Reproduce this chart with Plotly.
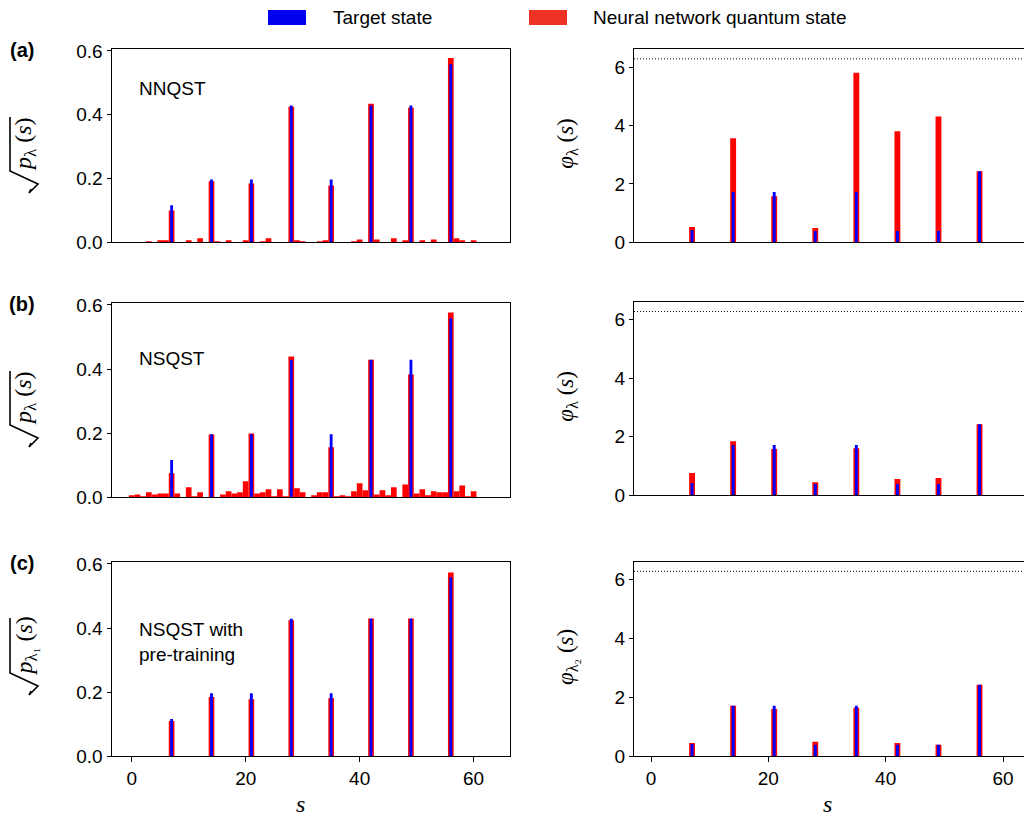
import numpy as np
import plotly.graph_objects as go

# ---------------- data ----------------
s_all = list(range(64))
s_peaks = [7, 14, 21, 28, 35, 42, 49, 56]

target_amp = [0.116, 0.197, 0.197, 0.429, 0.197, 0.429, 0.429, 0.558]
target_phase = [0.42, 1.72, 1.72, 0.39, 1.72, 0.39, 0.39, 2.43]

# (a) NNQST amplitudes, s = 0..63
nnqst_amp = [0, 0, 0, 0.003, 0, 0.006, 0.006, 0.100, 0, 0,
             0.006, 0, 0.0125, 0, 0.191, 0.003, 0, 0.006, 0, 0,
             0.006, 0.184, 0, 0.003, 0.0125, 0, 0, 0, 0.425, 0.006,
             0.003, 0, 0, 0.003, 0.006, 0.178, 0, 0, 0, 0.003,
             0.009, 0, 0.434, 0.009, 0, 0, 0.0125, 0, 0.006, 0.422,
             0, 0.006, 0, 0.009, 0, 0, 0.578, 0.0125, 0.006, 0,
             0.006, 0, 0, 0]
# (b) NSQST amplitudes, s = 0..63
nsqst_amp = [0.006, 0.009, 0.003, 0.016, 0.009, 0.012, 0.012, 0.075, 0.012, 0,
             0.031, 0.003, 0.016, 0, 0.196, 0, 0.009, 0.019, 0.012, 0.016,
             0.050, 0.199, 0.012, 0.016, 0.025, 0.003, 0.025, 0.003, 0.439, 0.028,
             0.016, 0, 0.006, 0.016, 0.016, 0.156, 0.003, 0.006, 0.003, 0.019,
             0.044, 0.022, 0.429, 0.009, 0.022, 0.006, 0.031, 0, 0.040, 0.383,
             0.012, 0.025, 0.006, 0.019, 0.016, 0.016, 0.576, 0.019, 0.037, 0.003,
             0.019, 0, 0, 0]
# (c) NSQST with pre-training, at the peaks
pre_amp = [0.110, 0.185, 0.178, 0.424, 0.181, 0.430, 0.430, 0.573]

nnqst_phase = [0.52, 3.56, 1.58, 0.49, 5.81, 3.80, 4.31, 2.43]
nsqst_phase = [0.76, 1.85, 1.58, 0.45, 1.61, 0.56, 0.59, 2.43]
pre_phase = [0.45, 1.72, 1.61, 0.49, 1.65, 0.45, 0.39, 2.43]

method_names = ["NNQST", "NSQST", "NSQST with<br>pre-training"]
panel_tags = ["(a)", "(b)", "(c)"]
amp_titles = [
    "<i>p</i><sub>λ</sub> (<i>s</i>)",
    "<i>p</i><sub>λ</sub> (<i>s</i>)",
    "<i>p</i><sub>λ₁</sub> (<i>s</i>)",
]
phase_titles = [
    "<i>φ</i><sub>λ</sub> (<i>s</i>)",
    "<i>φ</i><sub>λ</sub> (<i>s</i>)",
    "<i>φ</i><sub>λ₂</sub> (<i>s</i>)",
]
amp_ticks = [0.0, 0.2, 0.4, 0.6]
phase_ticks = [0, 2, 4, 6]
x_ticks = [0, 20, 40, 60]

RED = "#ff0000"
BLUE = "#0000ff"
SANS = "Arial, Liberation Sans, Helvetica, sans-serif"
SERIF = "Liberation Serif, Times New Roman, DejaVu Serif, serif"

W, H = 1024, 820
def px_x(p):
    return p / W
def px_y(p):
    return 1 - p / H

# panel pixel geometry (top, bottom)
left_rows = [(49.3, 242.3), (303.3, 497.3), (562.3, 756.3)]
right_rows = [(49.3, 242.3), (302.0, 495.3), (561.7, 756.3)]
left_x = (111.5, 509.5)
right_x = (634.0, 1024.0)
# radical sign geometry per row: (bar top y, bar bottom y, vertex y, tick end y)
radicals = [(117, 171, 184, 193), (371, 425, 438, 447), (618, 673, 686, 695)]

fig = go.Figure()

red_amp_x = [s_all, s_all, s_peaks]
red_amp_y = [nnqst_amp, nsqst_amp, pre_amp]
red_phase_y = [nnqst_phase, nsqst_phase, pre_phase]

for r in range(3):
    ax_l = 2 * r + 1
    ax_r = 2 * r + 2
    xl = "x" if ax_l == 1 else f"x{ax_l}"
    yl = "y" if ax_l == 1 else f"y{ax_l}"
    xr = f"x{ax_r}"
    yr = f"y{ax_r}"
    fig.add_trace(go.Bar(x=red_amp_x[r], y=red_amp_y[r], width=1.0,
                         marker=dict(color=RED, line=dict(width=0)),
                         xaxis=xl, yaxis=yl, showlegend=False,
                         name="Neural network quantum state"))
    fig.add_trace(go.Bar(x=s_peaks, y=target_amp, width=0.5,
                         marker=dict(color=BLUE, line=dict(width=0)),
                         xaxis=xl, yaxis=yl, showlegend=False,
                         name="Target state"))
    fig.add_trace(go.Bar(x=s_peaks, y=red_phase_y[r], width=1.0,
                         marker=dict(color=RED, line=dict(width=0)),
                         xaxis=xr, yaxis=yr, showlegend=False,
                         name="Neural network quantum state"))
    fig.add_trace(go.Bar(x=s_peaks, y=target_phase, width=0.5,
                         marker=dict(color=BLUE, line=dict(width=0)),
                         xaxis=xr, yaxis=yr, showlegend=False,
                         name="Target state"))

common = dict(showline=True, linecolor="black", linewidth=1, showgrid=False,
              zeroline=False, tickcolor="black", tickwidth=1,
              tickfont=dict(family=SANS, size=19, color="black"))

layout = dict(
    width=W, height=H, barmode="overlay",
    margin=dict(l=0, r=0, t=0, b=0, autoexpand=False),
    plot_bgcolor="white", paper_bgcolor="white",
    showlegend=False, font=dict(family=SANS, color="black"),
)

annotations = []
shapes = []
for r in range(3):
    ax_l = 2 * r + 1
    ax_r = 2 * r + 2
    kl = "" if ax_l == 1 else str(ax_l)
    kr = str(ax_r)
    bottom = (r == 2)
    lt, lb = left_rows[r]
    rt, rb = right_rows[r]
    layout["xaxis" + kl] = dict(common, domain=[px_x(left_x[0]), px_x(left_x[1])],
                                anchor="y" + kl, range=[-3.55, 66.3], mirror=True,
                                ticks="outside" if bottom else "", ticklen=5,
                                tickvals=x_ticks, showticklabels=bottom)
    layout["yaxis" + kl] = dict(common, domain=[px_y(lb), px_y(lt)],
                                anchor="x" + kl, range=[0, 0.605], mirror=True,
                                ticks="outside", ticklen=4,
                                tickvals=amp_ticks, tickformat=".1f")
    layout["xaxis" + kr] = dict(common, domain=[px_x(right_x[0]), px_x(right_x[1])],
                                anchor="y" + kr, range=[-2.9, 63.58], mirror=True,
                                ticks="outside" if bottom else "", ticklen=5,
                                tickvals=x_ticks, showticklabels=bottom)
    layout["yaxis" + kr] = dict(common, domain=[px_y(rb), px_y(rt)],
                                anchor="x" + kr, range=[0, 6.61], mirror=False,
                                ticks="outside", ticklen=4, tickvals=phase_ticks)
    # 2*pi reference line
    shapes.append(dict(type="line", xref=f"x{kr} domain", yref="y" + kr,
                       x0=0, x1=1, y0=2 * np.pi, y1=2 * np.pi,
                       line=dict(color="black", width=1, dash="1px,2px")))
    # panel tag
    annotations.append(dict(text="<b>" + panel_tags[r] + "</b>", xref="paper", yref="paper",
                            x=px_x(22), y=px_y(lt + 1), xanchor="center", yanchor="middle",
                            showarrow=False, font=dict(family=SANS, size=20, color="black")))
    # method label
    annotations.append(dict(text=method_names[r], xref="paper", yref="paper",
                            x=px_x(137), y=px_y([89, 359, 642][r]), xanchor="left",
                            yanchor="middle", align="left", showarrow=False,
                            font=dict(family=SANS, size=19, color="black")))
    # amplitude y title (radicand as text, radical sign drawn as a path)
    bt, bb, vy, ty = radicals[r]
    annotations.append(dict(text=amp_titles[r], xref="paper", yref="paper",
                            x=px_x(25), y=px_y((bt + bb) / 2 + 1), textangle=-90,
                            xanchor="center", yanchor="middle", showarrow=False,
                            font=dict(family=SERIF, size=24, color="black")))
    pts = [(10, bt), (10, bb), (38, vy), (29, ty), (31, ty - 4)]
    path = "M " + " L ".join(f"{px_x(x):.5f},{px_y(y):.5f}" for x, y in pts)
    shapes.append(dict(type="path", xref="paper", yref="paper", path=path,
                       line=dict(color="black", width=1.6)))
    annotations.append(dict(text=phase_titles[r], xref="paper", yref="paper",
                            x=px_x(567), y=px_y((rt + rb) / 2 - 2), textangle=-90,
                            xanchor="center", yanchor="middle", showarrow=False,
                            font=dict(family=SERIF, size=23, color="black")))

# x titles
for xc in (300, 827):
    annotations.append(dict(text="<i>s</i>", xref="paper", yref="paper",
                            x=px_x(xc), y=px_y(804), xanchor="center", yanchor="middle",
                            showarrow=False, font=dict(family=SERIF, size=24, color="black")))

# legend (manual)
legend_items = [("Target state", "#0000ee", 268, 331), ("Neural network quantum state", "#ee3324", 529, 591)]
for label, col, px0, tx in legend_items:
    shapes.append(dict(type="rect", xref="paper", yref="paper",
                       x0=px_x(px0), x1=px_x(px0 + 38), y0=px_y(25), y1=px_y(10),
                       fillcolor=col, line=dict(width=0)))
    annotations.append(dict(text=label, xref="paper", yref="paper", x=px_x(tx), y=px_y(17.5),
                            xanchor="left", yanchor="middle", showarrow=False,
                            font=dict(family=SANS, size=19, color="black")))

layout["annotations"] = annotations
layout["shapes"] = shapes
fig.update_layout(**layout)
fig.write_html("out.html", config={"displayModeBar": False},
               post_script="document.body.style.margin='0';document.body.style.overflow='hidden';")
